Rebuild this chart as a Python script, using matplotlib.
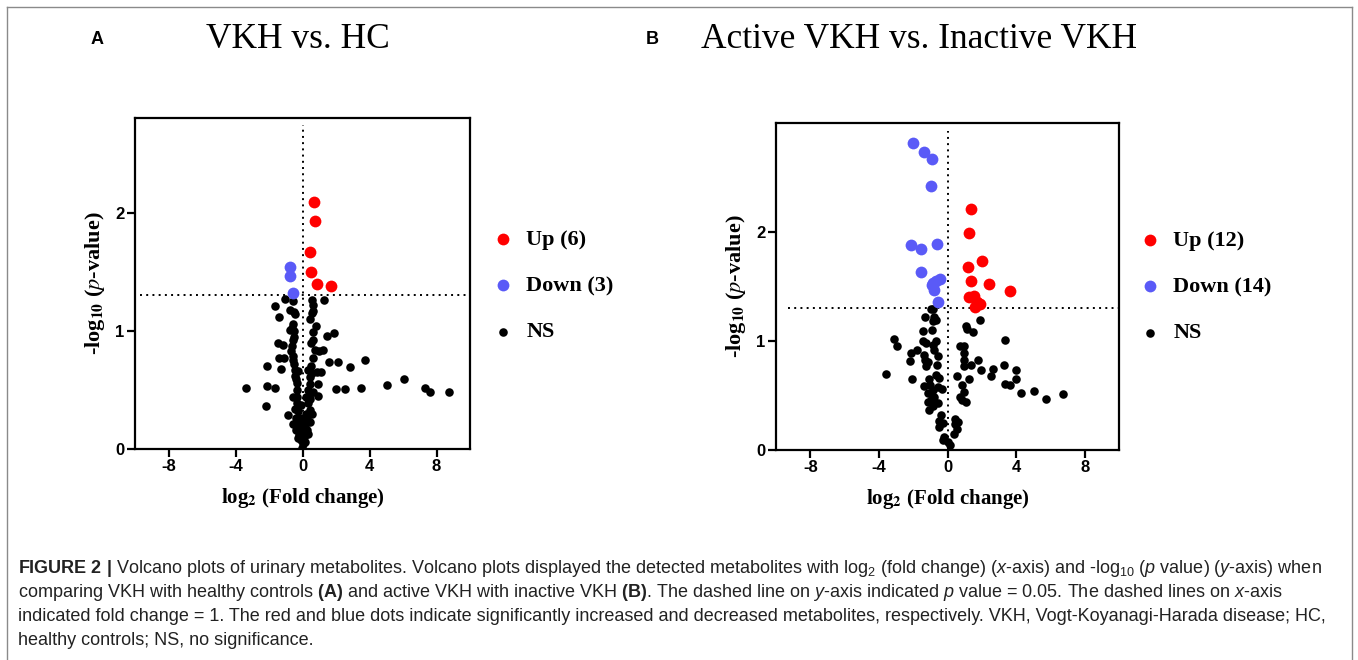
import matplotlib
matplotlib.use('Agg')
import matplotlib.pyplot as plt
from matplotlib.lines import Line2D

plt.rcParams['mathtext.fontset'] = 'custom'
plt.rcParams['mathtext.rm'] = 'Liberation Sans'
plt.rcParams['mathtext.it'] = 'Liberation Sans:italic'
plt.rcParams['mathtext.bf'] = 'Liberation Sans:bold'
plt.rcParams['axes.unicode_minus'] = False

# ---- panel A: VKH vs HC ----
a_up_x = [0.70, 0.74, 0.46, 0.50, 0.84, 1.68]
a_up_y = [2.09, 1.93, 1.67, 1.50, 1.40, 1.38]
a_down_x = [-0.76, -0.74, -0.58]
a_down_y = [1.54, 1.46, 1.32]
a_ns_x = [-1.06, -1.62, -1.42, -0.54, -0.76, -0.50, -0.42, 0.54, 0.60, 0.64,
          0.54, 0.46, 1.28, -0.56, -0.62, -0.72, 0.78, 0.64, 1.44, 1.90,
          -1.44, -1.16, -0.56, -0.60, 0.60, -0.66, 0.72, 1.24, 1.00, -0.54,
          -1.38, -1.12, -0.54, 0.60, 1.58, 2.14, 3.74, 2.84, -2.12, -1.26,
          -0.42, -0.26, 0.34, 0.54, 1.10, 0.88, 0.44, -0.40, -0.30, 0.44,
          0.90, -3.40, -2.10, -1.62, 2.00, 2.56, 3.50, 5.02, 6.04, 7.32,
          7.64, 8.74, -0.56, -0.30, 0.18, 0.38, 0.94, 0.44, -2.16, -0.32,
          -0.06, 0.30, -0.86, -0.46, -0.26, 0.44, 0.54, -0.36, -0.12, 0.28,
          -0.56, -0.26, 0.04, 0.44, -0.36, -0.06, 0.24, -0.20, 0.04, 0.34,
          -0.06, 0.14, 0.00, -0.02, -0.50, -0.48, 0.50, -0.52, 0.52, -0.35,
          0.30, 0.60, -0.45, 0.20, -0.15, 0.15, -0.25, 0.10]
a_ns_y = [1.27, 1.21, 1.12, 1.25, 1.18, 1.16, 1.14, 1.26, 1.22, 1.17,
          1.15, 1.10, 1.26, 1.06, 1.02, 1.01, 1.04, 0.99, 0.96, 0.98,
          0.90, 0.88, 0.92, 0.87, 0.92, 0.83, 0.84, 0.84, 0.83, 0.79,
          0.77, 0.77, 0.75, 0.77, 0.74, 0.74, 0.75, 0.69, 0.70, 0.68,
          0.67, 0.66, 0.67, 0.64, 0.65, 0.65, 0.61, 0.59, 0.56, 0.55,
          0.55, 0.52, 0.53, 0.52, 0.51, 0.51, 0.52, 0.54, 0.59, 0.52,
          0.48, 0.48, 0.44, 0.44, 0.44, 0.45, 0.45, 0.42, 0.36, 0.39,
          0.37, 0.39, 0.29, 0.34, 0.32, 0.33, 0.30, 0.26, 0.26, 0.25,
          0.21, 0.22, 0.22, 0.23, 0.16, 0.16, 0.16, 0.12, 0.11, 0.13,
          0.08, 0.06, 0.04, 0.01, 1.00, 0.95, 0.90, 0.72, 0.70, 0.50,
          0.50, 0.48, 0.62, 0.30, 0.20, 0.19, 0.09, 0.10]

# ---- panel B: active VKH vs inactive VKH ----
b_up_x = [1.35, 1.24, 2.03, 1.22, 1.35, 2.42, 3.63, 1.26, 1.55, 1.70, 1.87, 1.60]
b_up_y = [2.21, 1.99, 1.73, 1.68, 1.55, 1.52, 1.46, 1.40, 1.41, 1.36, 1.34, 1.31]
b_down_x = [-1.99, -1.39, -0.91, -0.97, -2.13, -1.55, -0.64, -1.55, -0.43, -0.83,
            -0.91, -0.77, -0.58, -0.66]
b_down_y = [2.82, 2.73, 2.67, 2.42, 1.88, 1.84, 1.89, 1.63, 1.57, 1.53,
            1.51, 1.47, 1.36, 1.55]
b_ns_x = [-0.97, -0.83, -1.31, -0.81, -0.68, -0.87, -1.45, -0.91, -0.68, -1.45,
          -1.26, -0.87, -0.77, -3.13, -2.96, -1.80, -2.13, -2.18, -1.35, -0.58,
          -1.31, -1.12, -1.26, -0.62, -3.57, -2.09, -0.68, -0.52, -1.10, -1.35,
          -1.02, -0.58, -0.33, -0.87, -1.16, -0.77, -0.97, -1.16, -0.58, -0.87,
          -1.06, -0.35, -0.52, -0.29, -0.48, -0.19, -0.29, 0.00, 0.12, 0.44,
          0.43, 0.58, 0.35, 0.62, 1.06, 0.87, 0.73, 0.97, 0.83, 0.58,
          1.26, 0.97, 1.35, 0.97, 1.80, 1.97, 2.51, 2.65, 3.29, 4.00,
          3.34, 3.67, 4.00, 4.29, 5.06, 5.72, 6.76, 3.34, 0.71, 0.97,
          1.08, 1.16, 1.51, 1.87, 0.97]
b_ns_y = [1.29, 1.29, 1.22, 1.22, 1.19, 1.18, 1.09, 1.10, 1.00, 1.00,
          0.98, 0.96, 0.92, 1.02, 0.95, 0.92, 0.89, 0.82, 0.87, 0.86,
          0.83, 0.81, 0.77, 0.78, 0.70, 0.65, 0.69, 0.66, 0.65, 0.59,
          0.60, 0.58, 0.56, 0.55, 0.52, 0.49, 0.46, 0.44, 0.43, 0.40,
          0.37, 0.32, 0.27, 0.25, 0.21, 0.12, 0.09, 0.07, 0.05, 0.28,
          0.24, 0.19, 0.15, 0.26, 0.44, 0.46, 0.49, 0.53, 0.60, 0.68,
          0.65, 0.77, 0.78, 0.83, 0.83, 0.73, 0.68, 0.74, 0.78, 0.73,
          0.61, 0.60, 0.65, 0.52, 0.54, 0.47, 0.51, 1.01, 0.95, 0.95,
          1.14, 1.11, 1.08, 1.19, 0.89]

RED = '#ff0000'
BLUE = '#5a5af7'
P_CUT = 1.301

fig = plt.figure(figsize=(13.58, 6.6), dpi=100)


def volcano(rect, up, down, ns, ymax, vtop, hleft, n_up, n_down, leg_xy):
    ax = fig.add_axes(rect)
    h_ns = ax.scatter(ns[0], ns[1], s=38, color='black', lw=0, zorder=3)
    h_up = ax.scatter(up[0], up[1], s=72, color=RED, lw=0, zorder=4)
    h_dn = ax.scatter(down[0], down[1], s=72, color=BLUE, lw=0, zorder=4)
    ax.plot([0, 0], [0, vtop], ls=(0, (1, 2.2)), color='black', lw=1.4, zorder=2)
    ax.plot([hleft, 10], [P_CUT, P_CUT], ls=(0, (1, 2.2)), color='black', lw=1.4, zorder=2)
    ax.set_xlim(-10, 10)
    ax.set_ylim(0, ymax)
    ax.set_xticks([-8, -4, 0, 4, 8])
    ax.set_yticks([0, 1, 2])
    for sp in ax.spines.values():
        sp.set_linewidth(1.6)
    ax.tick_params(direction='out', length=5.5, width=1.6, pad=2,
                   labelsize=12)
    for lab in ax.get_xticklabels() + ax.get_yticklabels():
        lab.set_fontfamily('Liberation Sans')
        lab.set_fontweight('bold')
    ax.set_xlabel(r'log$_{\mathbf{2}}$ (Fold change)', family='Liberation Serif',
                  weight='bold', size=15, math_fontfamily='stix', labelpad=8)
    ax.set_ylabel(r'-log$_{\mathbf{10}}$ ($p$-value)', family='Liberation Serif',
                  weight='bold', size=16, math_fontfamily='stix', labelpad=6)
    ax.legend([h_up, h_dn, h_ns], [f'Up ({n_up})', f'Down ({n_down})', 'NS'],
              loc='center left', bbox_to_anchor=leg_xy,
              bbox_transform=fig.transFigure, frameon=False, borderpad=0,
              borderaxespad=0, handlelength=1.0, handletextpad=0.55,
              labelspacing=1.15, scatterpoints=1,
              prop={'family': 'Liberation Serif', 'weight': 'bold', 'size': 16})
    return ax


volcano([135 / 1358, 1 - 449 / 660, 335 / 1358, 331 / 660],
        (a_up_x, a_up_y), (a_down_x, a_down_y), (a_ns_x, a_ns_y),
        2.8, 2.74, -9.7, len(a_up_x), len(a_down_x),
        (492 / 1358, 1 - 286 / 660))
volcano([776 / 1358, 1 - 450 / 660, 343 / 1358, 327 / 660],
        (b_up_x, b_up_y), (b_down_x, b_down_y), (b_ns_x, b_ns_y),
        3.0, 2.93, -9.3, len(b_up_x), len(b_down_x),
        (1139 / 1358, 1 - 287 / 660))

# panel letters and titles
fig.text(97 / 1358, 1 - 40 / 660, 'A', family='Liberation Sans', weight='bold',
         size=13, ha='center', va='center')
fig.text(652 / 1358, 1 - 40 / 660, 'B', family='Liberation Sans', weight='bold',
         size=13, ha='center', va='center')
fig.text(298 / 1358, 1 - 40 / 660, 'VKH vs. HC', family='Liberation Serif',
         size=25.5, ha='center', va='center')
fig.text(919 / 1358, 1 - 40 / 660, 'Active VKH vs. Inactive VKH',
         family='Liberation Serif', size=25.5, ha='center', va='center')

# caption
caption = [
    r'$\mathbf{FIGURE\ 2\ |}$ Volcano plots of urinary metabolites. Volcano plots displayed the detected metabolites with log$_2$ (fold change) ($x$-axis) and -log$_{10}$ ($p$ value) ($y$-axis) when',
    r'comparing VKH with healthy controls $\mathbf{(A)}$ and active VKH with inactive VKH $\mathbf{(B)}$. The dashed line on $y$-axis indicated $p$ value = 0.05. The dashed lines on $x$-axis',
    r'indicated fold change = 1. The red and blue dots indicate significantly increased and decreased metabolites, respectively. VKH, Vogt-Koyanagi-Harada disease; HC,',
    r'healthy controls; NS, no significance.',
]
for i, line in enumerate(caption):
    fig.text(18 / 1358, 1 - (573 + 24 * i) / 660, line, family='Liberation Sans',
             size=13, color='#222222', ha='left', va='baseline')

# frame around the figure
frame = dict(transform=fig.transFigure, color='#8a8a8a', lw=1.0)
fig.add_artist(Line2D([7 / 1358, 7 / 1358], [0, 1 - 7 / 660], **frame))
fig.add_artist(Line2D([1352 / 1358, 1352 / 1358], [0, 1 - 7 / 660], **frame))
fig.add_artist(Line2D([7 / 1358, 1352 / 1358], [1 - 7 / 660, 1 - 7 / 660], **frame))

fig.savefig('out.png', dpi=100)
